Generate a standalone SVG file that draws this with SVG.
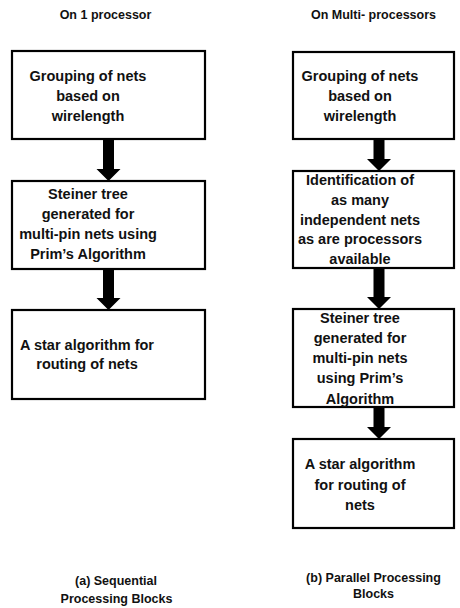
<svg xmlns="http://www.w3.org/2000/svg" width="460" height="608" viewBox="0 0 460 608">
<style>
.box{fill:#fff;stroke:#000;stroke-width:2.2}
.t{font-family:"Liberation Sans",Arial,sans-serif;font-weight:bold;font-size:14.5px;fill:#111;text-anchor:middle}
.h{font-family:"Liberation Sans",Arial,sans-serif;font-weight:bold;font-size:12.5px;fill:#111;text-anchor:middle}
.arr{fill:#000}
</style>
<rect width="460" height="608" fill="#fff"/>
<g id="titles">
<text class="h" x="105.5" y="18.5">On 1 processor</text>
<text class="h" x="373.5" y="18.5">On Multi- processors</text>
</g>
<g id="a1">
<rect class="box" x="12" y="51" width="193" height="88"/>
<text class="t" x="88" y="81">Grouping of nets</text>
<text class="t" x="88" y="101">based on</text>
<text class="t" x="88" y="121">wirelength</text>
</g>
<g id="a2">
<rect class="box" x="12" y="181" width="193" height="88"/>
<text class="t" x="88" y="199">Steiner tree</text>
<text class="t" x="88" y="219">generated for</text>
<text class="t" x="88" y="239">multi-pin nets using</text>
<text class="t" x="88" y="259">Prim’s Algorithm</text>
</g>
<g id="a3">
<rect class="box" x="12" y="310" width="193" height="89"/>
<text class="t" x="87" y="350">A star algorithm for</text>
<text class="t" x="87" y="369">routing of nets</text>
</g>
<g id="b1">
<rect class="box" x="293" y="52" width="161" height="87"/>
<text class="t" x="360" y="81">Grouping of nets</text>
<text class="t" x="360" y="101">based on</text>
<text class="t" x="360" y="121">wirelength</text>
</g>
<g id="b2">
<rect class="box" x="293" y="171" width="161" height="97"/>
<text class="t" x="360" y="185">Identification of</text>
<text class="t" x="360" y="205">as many</text>
<text class="t" x="360" y="224.5">independent nets</text>
<text class="t" x="360" y="244">as are processors</text>
<text class="t" x="360" y="264">available</text>
</g>
<g id="b3">
<rect class="box" x="293" y="309" width="161" height="98"/>
<text class="t" x="360" y="323">Steiner tree</text>
<text class="t" x="360" y="343">generated for</text>
<text class="t" x="360" y="363">multi-pin nets</text>
<text class="t" x="360" y="383">using Prim’s</text>
<text class="t" x="360" y="404">Algorithm</text>
</g>
<g id="b4">
<rect class="box" x="293" y="439" width="161" height="89"/>
<text class="t" x="360" y="469">A star algorithm</text>
<text class="t" x="360" y="489.5">for routing of</text>
<text class="t" x="360" y="510">nets</text>
</g>
<g id="connectors">
<polygon class="arr" points="103,140 114,140 114,169 120.5,169 108.5,181 96.5,169 103,169"/>
<polygon class="arr" points="103,269 114,269 114,298 120.5,298 108.5,310 96.5,298 103,298"/>
<polygon class="arr" points="373.5,139 384.5,139 384.5,159 391,159 379,171 367,159 373.5,159"/>
<polygon class="arr" points="373.5,268 384.5,268 384.5,297 391,297 379,309 367,297 373.5,297"/>
<polygon class="arr" points="373.5,407 384.5,407 384.5,427 391,427 379,439 367,427 373.5,427"/>
</g>
<g id="captions">
<text class="h" x="116" y="585">(a) Sequential</text>
<text class="h" x="116.5" y="603">Processing Blocks</text>
<text class="h" x="373.5" y="582">(b) Parallel Processing</text>
<text class="h" x="373.5" y="598">Blocks</text>
</g>
</svg>
